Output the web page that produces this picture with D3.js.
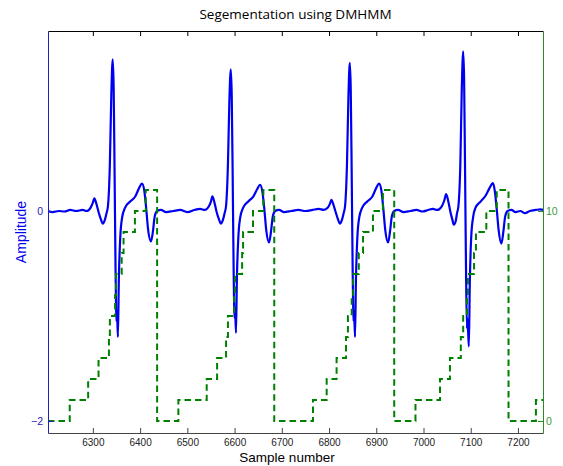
<!DOCTYPE html>
<html>
<head>
<meta charset="utf-8">
<script src="https://cdn.jsdelivr.net/npm/d3@7"></script>
<style>
  html, body { margin: 0; padding: 0; background: #fff; }
  svg { display: block; }
</style>
</head>
<body>
<svg id="chart" width="563" height="466"></svg>
<script>
// ---------------- DATA ----------------
const titleText = "Segementation using DMHMM";
const xLabel = "Sample number";
const yLeftLabel = "Amplitude";
const xTicks = [6300, 6400, 6500, 6600, 6700, 6800, 6900, 7000, 7100, 7200];
const yLeftTicks = [-2, 0];
const yRightTicks = [0, 10];

// ECG amplitude (left axis): sample numbers and values
const ecgSample = [
  6205, 6215, 6228, 6240, 6252, 6265, 6278,
  6287, 6295, 6300, 6303, 6308, 6312, 6317, 6321, 6325, 6329, 6332, 6336, 6339, 6342, 6344, 6346, 6348, 6350, 6351, 6353, 6355, 6358, 6362, 6368, 6379, 6390, 6398, 6404, 6409, 6413, 6417, 6423, 6427, 6431, 6436, 6444,
  6455, 6470, 6485, 6500, 6515, 6527,
  6537, 6545, 6550, 6553, 6558, 6562, 6567, 6571, 6575, 6579, 6582, 6586, 6589, 6592, 6594, 6596, 6598, 6600, 6601, 6603, 6605, 6608, 6612, 6618, 6629, 6640, 6648, 6654, 6659, 6663, 6667, 6673, 6677, 6681, 6686, 6694,
  6705, 6720, 6735, 6750, 6765, 6778,
  6789, 6797, 6802, 6805, 6810, 6814, 6819, 6823, 6827, 6831, 6834, 6838, 6841, 6844, 6846, 6848, 6850, 6852, 6853, 6855, 6857, 6860, 6864, 6870, 6881, 6892, 6900, 6906, 6911, 6915, 6919, 6925, 6929, 6933, 6938, 6946,
  6958, 6972, 6985, 6998, 7010, 7020,
  7029, 7038, 7044, 7048, 7053, 7057, 7061, 7064, 7068, 7071, 7074, 7078, 7081, 7084, 7086, 7088, 7090, 7092, 7093, 7096, 7098, 7101, 7105, 7110, 7121, 7132, 7140, 7147, 7151, 7155, 7159, 7165, 7169, 7173, 7178, 7186,
  7195, 7205, 7215, 7225, 7238, 7248, 7253
];
const ecgValue = [
  0.00, -0.01, 0.00, -0.005, 0.01, 0.00, 0.01,
  0.00, 0.03, 0.08, 0.12, 0.06, -0.01, -0.08, -0.12, -0.09, -0.02, 0.05, 0.45, 1.10, 1.445, 1.18, 0.35, -0.55, -1.05, -0.95, -1.20, -0.65, -0.25, -0.06, 0.03, 0.09, 0.14, 0.22, 0.26, 0.19, 0.02, -0.18, -0.29, -0.20, -0.05, 0.00, 0.01,
  -0.01, 0.00, 0.01, -0.01, 0.01, 0.02,
  0.01, 0.04, 0.09, 0.14, 0.07, -0.01, -0.08, -0.12, -0.09, -0.02, 0.05, 0.45, 1.05, 1.35, 1.10, 0.33, -0.55, -1.02, -0.92, -1.16, -0.63, -0.25, -0.06, 0.03, 0.09, 0.14, 0.21, 0.25, 0.18, 0.02, -0.18, -0.30, -0.20, -0.05, 0.00, 0.01,
  -0.01, 0.00, 0.01, 0.00, 0.01, 0.02,
  0.01, 0.03, 0.07, 0.105, 0.05, -0.01, -0.08, -0.12, -0.09, -0.02, 0.05, 0.45, 1.08, 1.41, 1.15, 0.35, -0.55, -1.05, -0.95, -1.20, -0.65, -0.25, -0.06, 0.03, 0.09, 0.14, 0.22, 0.26, 0.19, 0.02, -0.18, -0.30, -0.20, -0.05, 0.00, 0.01,
  -0.01, 0.00, 0.01, -0.005, 0.01, 0.02,
  0.01, 0.04, 0.10, 0.16, 0.08, -0.01, -0.08, -0.13, -0.10, -0.02, 0.05, 0.45, 1.15, 1.52, 1.25, 0.38, -0.55, -1.12, -1.02, -1.29, -0.70, -0.25, -0.06, 0.03, 0.09, 0.15, 0.22, 0.265, 0.19, 0.02, -0.18, -0.31, -0.20, -0.05, 0.00, 0.01,
  -0.01, 0.00, -0.02, 0.00, 0.01, 0.015, 0.01
];

// Segmentation state (right axis): sample where the state starts, and the state
const stateSample = [
  6205, 6251, 6290, 6312, 6334, 6336, 6347, 6349, 6361, 6365, 6389, 6412, 6436,
  6481, 6541, 6563, 6582, 6586, 6599, 6601, 6616, 6618, 6639, 6661, 6684,
  6766, 6795, 6816, 6836, 6840, 6848, 6851, 6863, 6872, 6893, 6914, 6938,
  6983, 7035, 7056, 7079, 7084, 7092, 7094, 7107, 7111, 7133, 7155, 7180,
  7238, 7253
];
const stateValue = [
  0, 1, 2, 3, 4, 5, 6, 7, 8, 9, 10, 11, 0,
  1, 2, 3, 4, 5, 6, 7, 8, 9, 10, 11, 0,
  1, 2, 3, 4, 5, 6, 7, 8, 9, 10, 11, 0,
  1, 2, 3, 4, 5, 6, 7, 8, 9, 10, 11, 0,
  1, 1
];

// ---------------- CHART ----------------
const svg = d3.select("#chart");
const L = 48, R = 543, T = 31, B = 433;

const x = d3.scaleLinear().domain([6205, 7253]).range([L, R]);
const yL = d3.scaleLinear().domain([-2.114, 1.714]).range([B, T]);
const yR = d3.scaleLinear().domain([-0.571, 18.571]).range([B, T]);

const blue = "#0000f0";
const green = "#008000";
const tickFont = "Liberation Sans, Arial, sans-serif";

svg.append("defs").append("clipPath").attr("id", "plotclip")
  .append("rect").attr("x", L).attr("y", T).attr("width", R - L).attr("height", B - T);

// ECG line
const ecg = ecgSample.map((s, i) => [s, ecgValue[i]]);
svg.append("path")
  .attr("clip-path", "url(#plotclip)")
  .attr("d", d3.line().x(d => x(d[0])).y(d => yL(d[1])).curve(d3.curveMonotoneX)(ecg))
  .attr("fill", "none").attr("stroke", blue).attr("stroke-width", 2.2)
  .attr("stroke-linejoin", "round");

// State line (dashed step)
const st = stateSample.map((s, i) => [s, stateValue[i]]);
svg.append("path")
  .attr("clip-path", "url(#plotclip)")
  .attr("d", d3.line().x(d => x(d[0])).y(d => yR(d[1])).curve(d3.curveStepAfter)(st))
  .attr("fill", "none").attr("stroke", green).attr("stroke-width", 2)
  .attr("stroke-dasharray", "6.5,4");

// Bottom axis
const xAxisB = d3.axisBottom(x).tickValues(xTicks).tickSizeInner(-5).tickSizeOuter(0).tickPadding(6).tickFormat(d3.format("d"));
const gB = svg.append("g").attr("transform", `translate(0,${B})`).call(xAxisB);
gB.select(".domain").attr("stroke", "#444");
gB.selectAll(".tick line").attr("stroke", "#444");
gB.selectAll("text").attr("font-family", tickFont).attr("font-size", 10).attr("fill", "#222");

// Top axis (ticks only)
const xAxisT = d3.axisTop(x).tickValues(xTicks).tickSizeInner(-5).tickSizeOuter(0).tickFormat("");
const gT = svg.append("g").attr("transform", `translate(0,${T})`).call(xAxisT);
gT.select(".domain").attr("stroke", "#000");
gT.selectAll(".tick line").attr("stroke", "#000");

// Left axis
const yAxisL = d3.axisLeft(yL).tickValues(yLeftTicks).tickSizeInner(-5).tickSizeOuter(0).tickPadding(5).tickFormat(d3.format("d"));
const gL = svg.append("g").attr("transform", `translate(${L},0)`).call(yAxisL);
gL.select(".domain").attr("stroke", "#2020c0");
gL.selectAll(".tick line").attr("stroke", "#2020c0");
gL.selectAll("text").attr("font-family", tickFont).attr("font-size", 10.5).attr("fill", "#2020c0");

// Right axis
const yAxisR = d3.axisRight(yR).tickValues(yRightTicks).tickSizeInner(-5).tickSizeOuter(0).tickPadding(3).tickFormat(d3.format("d"));
const gR = svg.append("g").attr("transform", `translate(${R},0)`).call(yAxisR);
gR.select(".domain").attr("stroke", "#2a8a2a");
gR.selectAll(".tick line").attr("stroke", "#2a8a2a");
gR.selectAll("text").attr("font-family", tickFont).attr("font-size", 10.5).attr("fill", "#3a9a3a");

// Title
svg.append("text").attr("x", (L + R) / 2).attr("y", 19)
  .attr("text-anchor", "middle").attr("font-family", "Open Sans, sans-serif")
  .attr("font-size", 13.5).attr("fill", "#000").text(titleText);

// X label
svg.append("text").attr("x", 287).attr("y", 462)
  .attr("text-anchor", "middle").attr("font-family", tickFont)
  .attr("font-size", 13.5).attr("fill", "#000").text(xLabel);

// Y label
svg.append("text").attr("transform", `translate(26,232) rotate(-90)`)
  .attr("text-anchor", "middle").attr("font-family", tickFont)
  .attr("font-size", 14).attr("fill", "#0000f0").text(yLeftLabel);
</script>
</body>
</html>
